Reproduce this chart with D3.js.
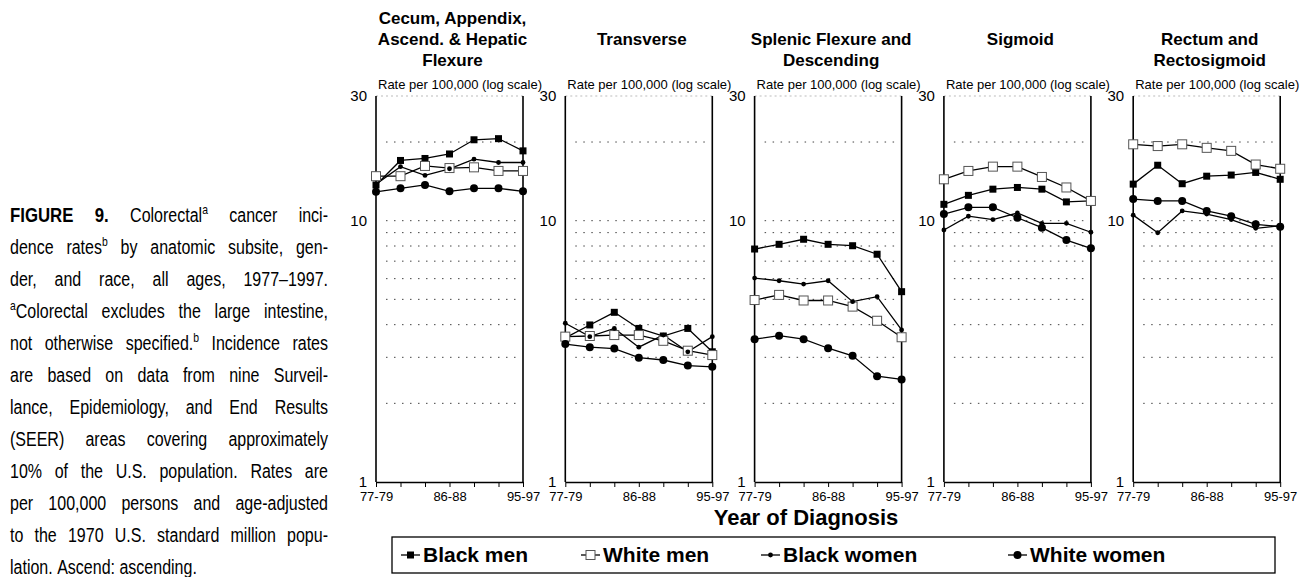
<!DOCTYPE html>
<html>
<head>
<meta charset="utf-8">
<script src="https://cdn.jsdelivr.net/npm/d3@7"></script>
<style>
body { margin: 0; background: #fff; }
text { font-family: "Liberation Sans", Arial, Helvetica, sans-serif; fill: #000; }
</style>
</head>
<body>
<div id="chart"></div>
<script>
// periods on the x axis, only three of them labelled
var periods = ["77-79", "80-82", "83-85", "86-88", "89-91", "92-94", "95-97"];
var tickLabels = ["77-79", "86-88", "95-97"];
var yTicks = [1, 10, 30];
var gridValues = [2, 3, 4, 5, 6, 7, 8, 9, 10, 20];

var subsites = [
    ["Cecum, Appendix,", "Ascend. & Hepatic", "Flexure"],
    ["Transverse"],
    ["Splenic Flexure and", "Descending"],
    ["Sigmoid"],
    ["Rectum and", "Rectosigmoid"]
];

var seriesNames = ["Black men", "White men", "Black women", "White women"];

// rates per 100,000, one row per subsite
var blackMen = [
    [13.7, 17.0, 17.3, 18.0, 20.4, 20.6, 18.5],
    [3.56, 3.99, 4.46, 3.87, 3.62, 3.87, 3.15],
    [7.79, 8.12, 8.49, 8.12, 8.02, 7.44, 5.35],
    [11.55, 12.5, 13.2, 13.4, 13.2, 11.8, 11.9],
    [13.8, 16.3, 13.85, 14.8, 14.95, 15.3, 14.4]
];
var whiteMen = [
    [14.8, 14.8, 16.2, 15.9, 16.0, 15.5, 15.5],
    [3.60, 3.62, 3.65, 3.65, 3.47, 3.18, 3.06],
    [4.97, 5.20, 4.95, 4.95, 4.69, 4.14, 3.58],
    [14.4, 15.5, 16.1, 16.1, 14.7, 13.4, 11.9],
    [19.6, 19.3, 19.6, 19.0, 18.5, 16.4, 15.8]
];
var blackWomen = [
    [13.8, 16.1, 14.9, 15.8, 17.2, 16.7, 16.7],
    [4.05, 3.60, 3.87, 3.28, 3.65, 3.15, 3.60],
    [6.03, 5.89, 5.72, 5.89, 4.90, 5.12, 3.82],
    [9.21, 10.4, 10.1, 10.7, 9.77, 9.77, 9.03],
    [10.5, 8.99, 10.9, 10.6, 10.1, 9.35, 9.57]
];
var whiteWomen = [
    [12.9, 13.3, 13.7, 12.95, 13.3, 13.3, 12.95],
    [3.37, 3.28, 3.24, 2.99, 2.93, 2.79, 2.76],
    [3.52, 3.63, 3.52, 3.25, 3.04, 2.54, 2.47],
    [10.6, 11.25, 11.25, 10.26, 9.40, 8.43, 7.84],
    [12.1, 11.9, 11.9, 10.9, 10.4, 9.68, 9.48]
];

var captionLines = [
    "*FIGURE *9. Colorectal^a cancer inci-",
    "dence rates^b by anatomic subsite, gen-",
    "der, and race, all ages, 1977\u20131997.",
    "^aColorectal excludes the large intestine,",
    "not otherwise specified.^b Incidence rates",
    "are based on data from nine Surveil-",
    "lance, Epidemiology, and End Results",
    "(SEER) areas covering approximately",
    "10% of the U.S. population. Rates are",
    "per 100,000 persons and age-adjusted",
    "to the 1970 U.S. standard million popu-",
    "lation. Ascend: ascending."
];

var svgWidth = 1315;
var svgHeight = 577;

var svg = d3.select("#chart")
    .append("svg")
    .attr("width", svgWidth)
    .attr("height", svgHeight);

var allSeries = [blackMen, whiteMen, blackWomen, whiteWomen];

// marker drawing per series
function drawMarker(sel, k) {
    if (k === 0) {
        sel.append("rect").attr("x", -3.5).attr("y", -3.5).attr("width", 7).attr("height", 7)
            .attr("fill", "#000");
    } else if (k === 1) {
        sel.append("rect").attr("x", -4.5).attr("y", -4.5).attr("width", 9).attr("height", 9)
            .attr("fill", "#fff").attr("stroke", "#555").attr("stroke-width", 1);
    } else if (k === 2) {
        sel.append("circle").attr("r", 2.4).attr("fill", "#000");
    } else {
        sel.append("circle").attr("r", 4).attr("fill", "#000");
    }
}

// panel layout
var panelLeft = 376, panelStep = 189.3, panelW = 147;
var plotTop = 96, plotBottom = 482;

var yScale = d3.scaleLog()
    .domain([1, 30])
    .range([plotBottom, plotTop]);

var xScale = d3.scalePoint()
    .domain(periods)
    .range([0, panelW]);

subsites.forEach(function (title, p) {
    var g = svg.append("g")
        .attr("transform", `translate(${panelLeft + p * panelStep}, 0)`);

    // title
    var start = title.length === 3 ? 0 : 1;
    title.forEach(function (line, j) {
        g.append("text")
            .attr("x", panelW / 2 + 3)
            .attr("y", 24 + (start + j) * 21)
            .attr("text-anchor", "middle")
            .style("font-size", "17px")
            .style("font-weight", "bold")
            .text(line);
    });

    g.append("text")
        .attr("x", 2)
        .attr("y", 89)
        .style("font-size", "13px")
        .text("Rate per 100,000 (log scale)");

    // dotted grid
    g.selectAll("line.grid")
        .data(gridValues)
        .enter()
        .append("line")
        .attr("class", "grid")
        .attr("x1", 10)
        .attr("x2", panelW - 5)
        .attr("y1", d => yScale(d))
        .attr("y2", d => yScale(d))
        .attr("stroke", "#444")
        .attr("stroke-width", 1)
        .attr("stroke-dasharray", "1.5,6.5");

    // faint top edge
    g.append("line")
        .attr("x1", 0).attr("x2", panelW)
        .attr("y1", plotTop).attr("y2", plotTop)
        .attr("stroke", "#bbb")
        .attr("stroke-dasharray", "2,3");

    // frame sides
    [0, panelW].forEach(function (x) {
        g.append("line")
            .attr("x1", x).attr("x2", x)
            .attr("y1", plotTop).attr("y2", plotBottom)
            .attr("stroke", "#000")
            .attr("stroke-width", 1.6);
    });

    // axes
    var bottomAxis = d3.axisBottom(xScale)
        .tickSize(5)
        .tickSizeOuter(0)
        .tickPadding(5)
        .tickFormat(d => tickLabels.indexOf(d) >= 0 ? d : "");
    var xa = g.append("g")
        .attr("transform", `translate(0, ${plotBottom})`)
        .call(bottomAxis);
    xa.select(".domain").attr("stroke-width", 1.6);
    xa.selectAll("text").style("font-size", "13px").style("font-family", "Liberation Sans, Arial, sans-serif").attr("fill", "#000");

    var leftAxis = d3.axisLeft(yScale)
        .tickValues(yTicks)
        .tickSize(0)
        .tickPadding(9)
        .tickFormat(d3.format("d"));
    var ya = g.append("g").call(leftAxis);
    ya.select(".domain").remove();
    ya.selectAll("text").style("font-size", "15px").style("font-family", "Liberation Sans, Arial, sans-serif").attr("fill", "#000");

    // series lines
    var line = d3.line()
        .x((d, i) => xScale(periods[i]))
        .y(d => yScale(d));

    allSeries.forEach(function (series) {
        g.append("path")
            .datum(series[p])
            .attr("d", line)
            .attr("fill", "none")
            .attr("stroke", "#000")
            .attr("stroke-width", 1.3);
    });

    // markers
    allSeries.forEach(function (series, k) {
        g.selectAll("g.m" + k)
            .data(series[p])
            .enter()
            .append("g")
            .attr("class", "m" + k)
            .attr("transform", (d, i) => `translate(${xScale(periods[i])}, ${yScale(d)})`)
            .each(function () { drawMarker(d3.select(this), k); });
    });
});

// x axis title
svg.append("text")
    .attr("x", 806)
    .attr("y", 525)
    .attr("text-anchor", "middle")
    .style("font-size", "22px")
    .style("font-weight", "bold")
    .text("Year of Diagnosis");

// legend
svg.append("rect")
    .attr("x", 392).attr("y", 537)
    .attr("width", 883).attr("height", 36)
    .attr("fill", "#fff")
    .attr("stroke", "#000")
    .attr("stroke-width", 1.3);

var legendX = [423, 603, 783, 1030];
seriesNames.forEach(function (name, k) {
    var lg = svg.append("g").attr("transform", `translate(${legendX[k]}, 562)`);
    lg.append("line")
        .attr("x1", -22).attr("x2", -3)
        .attr("y1", -7).attr("y2", -7)
        .attr("stroke", "#000").attr("stroke-width", 1.3);
    var mk = lg.append("g").attr("transform", "translate(-12.5, -7)");
    drawMarker(mk, k);
    lg.append("text")
        .attr("x", 0)
        .style("font-size", "21px")
        .style("font-weight", "bold")
        .text(name);
});

// caption on the left, justified, condensed by a horizontal squeeze
var capX = 10, capW = 318, capSx = 0.8, capY0 = 222, capDy = 32;
var cap = svg.append("g").attr("transform", `translate(${capX}, 0) scale(${capSx}, 1)`);
captionLines.forEach(function (lineText, li) {
    var y = capY0 + li * capDy;
    var words = lineText.split(" ");
    var nodes = words.map(function (w) {
        var t = cap.append("text").attr("y", y).style("font-size", "20px");
        if (w[0] === "*") {
            w = w.slice(1);
            t.style("font-weight", "bold").style("font-size", "21px");
        }
        var parts = w.split("^");
        parts.forEach(function (part, k) {
            if (k === 0) {
                if (part) t.append("tspan").text(part);
            } else {
                t.append("tspan").attr("dy", -8).style("font-size", "13px").text(part[0]);
                if (part.length > 1) t.append("tspan").attr("dy", 8).text(part.slice(1));
            }
        });
        return t;
    });
    var widths = nodes.map(n => n.node().getComputedTextLength());
    var total = d3.sum(widths);
    var target = capW / capSx;
    var last = li === captionLines.length - 1;
    var gap = last ? 5.6 : (target - total) / (nodes.length - 1);
    var x = 0;
    nodes.forEach(function (n, i) {
        n.attr("x", x);
        x += widths[i] + gap;
    });
});
</script>
</body>
</html>
